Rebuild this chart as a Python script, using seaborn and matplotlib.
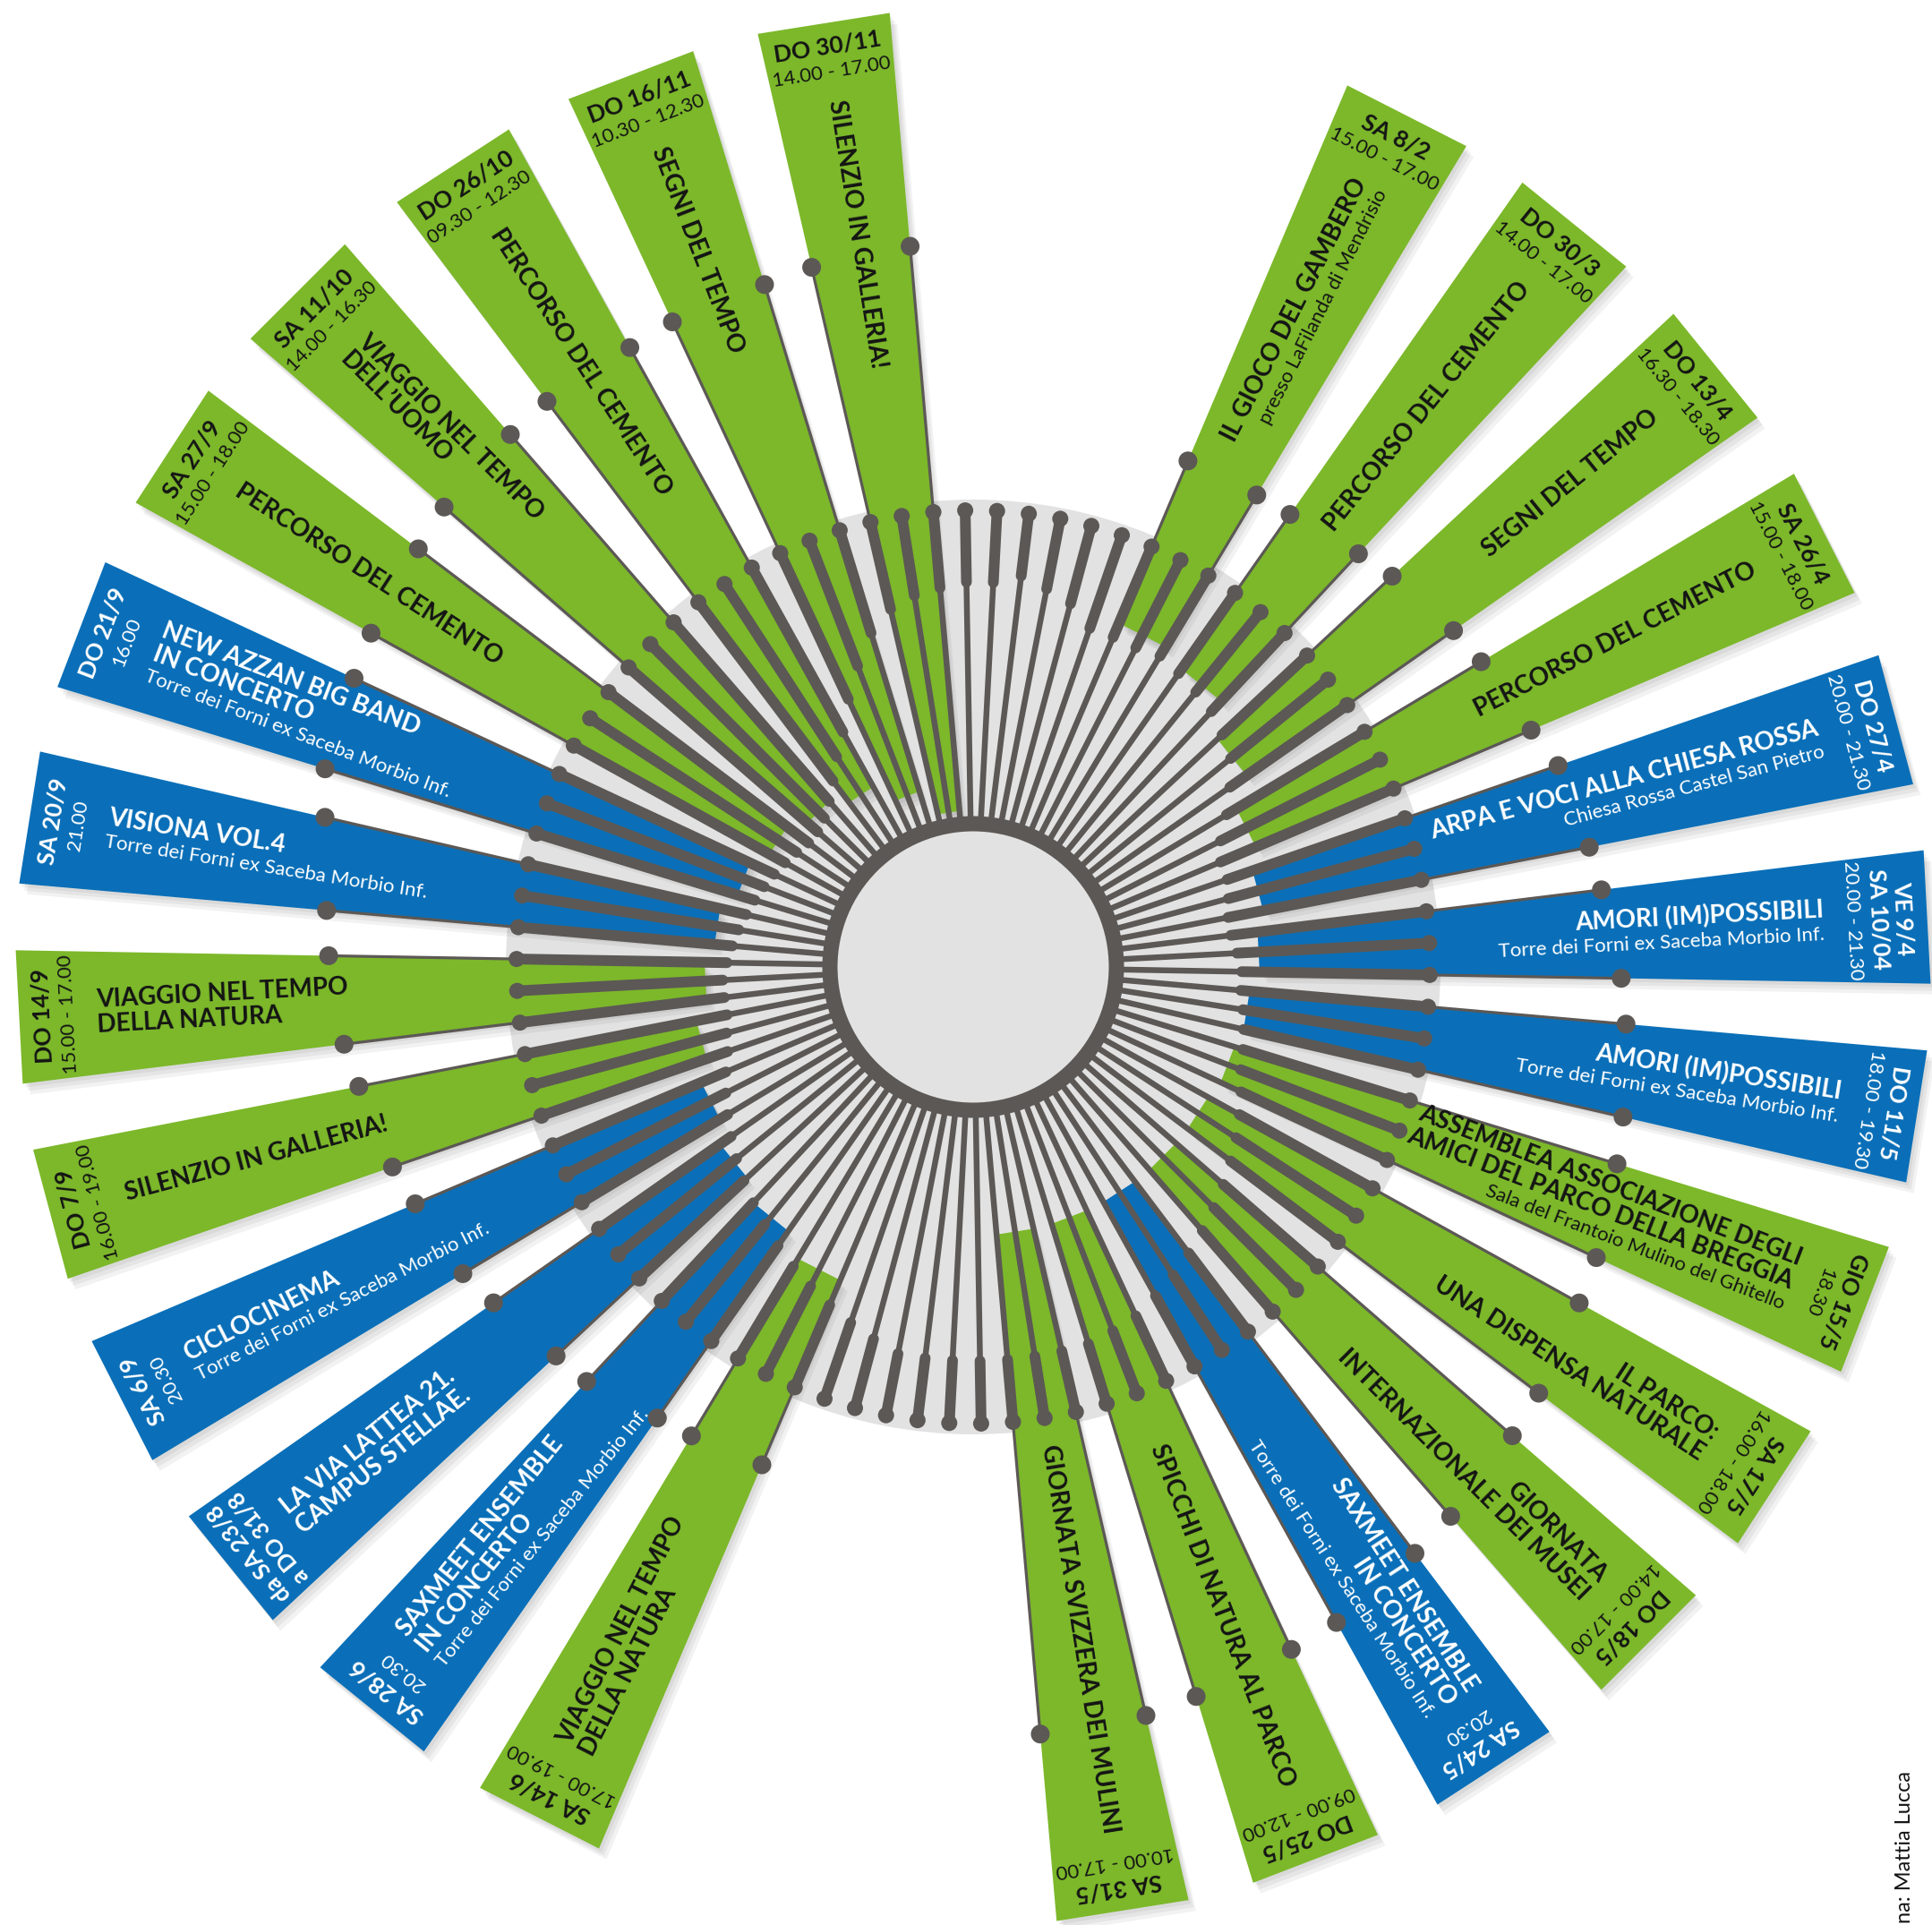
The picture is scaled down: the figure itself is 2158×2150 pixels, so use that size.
import numpy as np
import pandas as pd
import matplotlib
matplotlib.use("Agg")
import matplotlib.pyplot as plt
import seaborn as sns
from matplotlib.patches import Polygon, Circle
from matplotlib.collections import LineCollection

# ---------------- data ----------------
event_slot = [0, 1, 2, 3, 4, 5, 6, 7, 8, 9, 10, 11, 12,
              15, 16, 17, 18, 19, 20, 21, 22, 23, 24, 25, 26, 27]
event_kind = ["g", "g", "g", "g", "b", "b", "b", "g", "g", "g", "b", "g", "g",
              "g", "b", "b", "b", "g", "g", "b", "b", "g", "g", "g", "g", "g"]
event_dates = [["SA 8/2"], ["DO 30/3"], ["DO 13/4"], ["SA 26/4"], ["DO 27/4"],
               ["VE 9/4", "SA 10/04"], ["DO 11/5"], ["GIO 15/5"], ["SA 17/5"],
               ["DO 18/5"], ["SA 24/5"], ["DO 25/5"], ["SA 31/5"], ["SA 14/6"],
               ["SA 28/6"], ["da SA 23/8", "a DO 31/8"], ["SA 6/9"], ["DO 7/9"],
               ["DO 14/9"], ["SA 20/9"], ["DO 21/9"], ["SA 27/9"], ["SA 11/10"],
               ["DO 26/10"], ["DO 16/11"], ["DO 30/11"]]
event_times = ["15.00 - 17.00", "14.00 - 17.00", "16.30 - 18.30", "15.00 - 18.00",
               "20.00 - 21.30", "20.00 - 21.30", "18.00 - 19.30", "18.30",
               "16.00 - 18.00", "14.00 - 17.00", "20.30", "09.00 - 12.00",
               "10.00 - 17.00", "17.00 - 19.00", "20.30", "", "20.30",
               "16.00 - 19.00", "15.00 - 17.00", "21.00", "16.00", "15.00 - 18.00",
               "14.00 - 16.30", "09.30 - 12.30", "10.30 - 12.30", "14.00 - 17.00"]
TORRE = "Torre dei Forni ex Saceba Morbio Inf."
event_titles = [["IL GIOCO DEL GAMBERO"], ["PERCORSO DEL CEMENTO"], ["SEGNI DEL TEMPO"],
                ["PERCORSO DEL CEMENTO"], ["ARPA E VOCI ALLA CHIESA ROSSA"],
                ["AMORI (IM)POSSIBILI"], ["AMORI (IM)POSSIBILI"],
                ["ASSEMBLEA ASSOCIAZIONE DEGLI", "AMICI DEL PARCO DELLA BREGGIA"],
                ["IL PARCO:", "UNA DISPENSA NATURALE"],
                ["GIORNATA", "INTERNAZIONALE DEI MUSEI"],
                ["SAXMEET ENSEMBLE", "IN CONCERTO"], ["SPICCHI DI NATURA AL PARCO"],
                ["GIORNATA SVIZZERA DEI MULINI"], ["VIAGGIO NEL TEMPO", "DELLA NATURA"],
                ["SAXMEET ENSEMBLE", "IN CONCERTO"],
                ["LA VIA LATTEA 21.", "CAMPUS STELLAE."], ["CICLOCINEMA"],
                ["SILENZIO IN GALLERIA!"], ["VIAGGIO NEL TEMPO", "DELLA NATURA"],
                ["VISIONA VOL.4"], ["NEW AZZAN BIG BAND", "IN CONCERTO"],
                ["PERCORSO DEL CEMENTO"], ["VIAGGIO NEL TEMPO", "DELL\u2019UOMO"],
                ["PERCORSO DEL CEMENTO"], ["SEGNI DEL TEMPO"], ["SILENZIO IN GALLERIA!"]]
event_subs = [["presso LaFilanda di Mendrisio"], [], [], [],
              ["Chiesa Rossa Castel San Pietro"], [TORRE], [TORRE],
              ["Sala del Frantoio Mulino del Ghitello"], [], [], [TORRE], [], [],
              [], [TORRE], [], [TORRE], [], [], [TORRE], [TORRE], [], [], [], [], []]
# radius where each coloured wedge starts (inside the grey disc)
wedge_r_in = [417, 406, 373, 343, 330, 320, 310, 305, 300, 300, 300, 300, 300,
              380, 360, 345, 330, 315, 300, 290, 275, 260, 245, 230, 205, 175]
# radius of the end dot on the counter-clockwise / clockwise edge of each wedge
conn_r_ccw = [614, 617, 640, 662, 691, 707, 732, 752, 774, 798, 820, 841, 858,
              604, 615, 637, 665, 686, 708, 725, 757, 769, 783, 791, 795, 802]
conn_r_cw = [615, 631, 655, 677, 701, 724, 745, 768, 791, 813, 837, 852, 860,
             611, 633, 654, 677, 699, 720, 743, 763, 776, 788, 791, 797, 808]
# inner radius of the thick part of each of the 90 radial sticks (from 3 deg, every 4 deg)
stick_thick_r = [430, 440, 430, 420, 400, 400, 400, 405, 400, 395, 390, 380, 370,
                 350, 330, 310, 300, 300, 295, 290, 290, 295, 300, 300, 305, 310,
                 315, 320, 330, 340, 350, 360, 370, 380, 390, 400, 410, 420, 430,
                 435, 440, 440, 440, 440, 440, 440, 440, 440, 430, 420, 410, 400,
                 390, 380, 370, 360, 350, 340, 330, 320, 310, 300, 290, 285, 280,
                 280, 280, 275, 270, 265, 260, 255, 250, 245, 240, 235, 230, 230,
                 235, 245, 260, 280, 300, 330, 360, 390, 410, 420, 425, 430]
credit = "na: Mattia Lucca"

# ---------------- style ----------------
GREEN = "#7cb82a"
BLUE = "#0a6fb8"
DARK = "#5c5855"
LIGHT = "#e2e2e2"
INK = "#141414"

sns.set_theme(style="white")
plt.rcParams["font.family"] = ["Lato", "DejaVu Sans"]

W, H = 2158, 2150
CX, CY = 1087, 1080
PT = 0.72  # points per pixel at dpi 100

fig = plt.figure(figsize=(W / 100, H / 100), dpi=100)
ax = fig.add_axes([0, 0, 1, 1])
ax.set_xlim(-CX, W - CX)
ax.set_ylim(-(H - CY), CY)
ax.set_aspect("equal")
ax.axis("off")


def P(r, th):
    t = np.deg2rad(th)
    return np.array([r * np.sin(t), r * np.cos(t)])


HW = 4.0
R_OUT = 1067
RC = R_OUT / np.cos(np.deg2rad(HW))
R_STICK = 510

angles = [27 + 12 * s for s in event_slot]

# light gray disc
ax.add_patch(Circle((0, 0), 522, facecolor=LIGHT, edgecolor="none", zorder=1))

# wedges with soft shadow
for th, kind, rin in zip(angles, event_kind, wedge_r_in):
    poly = np.array([P(rin, th - HW), P(RC, th - HW), P(RC, th + HW), P(rin, th + HW)])
    for off in [12, 8, 4]:
        ax.add_patch(Polygon(poly + np.array([off * 0.7, -off]), closed=True,
                             facecolor="black", alpha=0.05, edgecolor="none", zorder=2))
    ax.add_patch(Polygon(poly, closed=True, facecolor=GREEN if kind == "g" else BLUE,
                         edgecolor="none", zorder=3))

# connectors along wedge edges
segs, dots = [], []
for th, r1, r2 in zip(angles, conn_r_ccw, conn_r_cw):
    for a, r in [(th - HW, r1), (th + HW, r2)]:
        segs.append([P(R_STICK, a), P(r, a)])
        dots.append(P(r, a))
ax.add_collection(LineCollection(segs, colors=DARK, linewidths=3.2 * PT, zorder=4))
dots = np.array(dots)
sns.scatterplot(x=dots[:, 0], y=dots[:, 1], s=(21 * PT) ** 2, color=DARK,
                edgecolor="none", legend=False, ax=ax, zorder=5)

# radial sticks
stick_ang = [3 + 4 * k for k in range(len(stick_thick_r))]
thin = [[P(160, a), P(r, a)] for a, r in zip(stick_ang, stick_thick_r)]
thick = [[P(r, a), P(R_STICK, a)] for a, r in zip(stick_ang, stick_thick_r)]
ax.add_collection(LineCollection(thin, colors=DARK, linewidths=6.5 * PT, zorder=6))
ax.add_collection(LineCollection(thick, colors=DARK, linewidths=12 * PT,
                                 capstyle="round", zorder=6))
caps = np.array([P(R_STICK, a) for a in stick_ang])
sns.scatterplot(x=caps[:, 0], y=caps[:, 1], s=(18 * PT) ** 2, color=DARK,
                edgecolor="none", legend=False, ax=ax, zorder=6)

# inner disc
ax.add_patch(Circle((0, 0), 160, facecolor=LIGHT, edgecolor=DARK,
                    linewidth=17 * PT, zorder=7))

# ---------------- texts ----------------
TITLE_FS, SUB_FS, DATE_FS, TIME_FS = 20, 16, 19, 16


def block(th, lines, r_anchor, right, color):
    rot = 90 - th if right else 270 - th
    ha = "right" if right else "left"
    rr = np.deg2rad(rot)
    d = np.array([np.sin(rr), -np.cos(rr)])
    offs, cur = [], 0.0
    for j, (_, _, _, sp) in enumerate(lines):
        if j > 0:
            cur += sp
        offs.append(cur)
    mid = (offs[0] + offs[-1]) / 2
    base = P(r_anchor, th)
    for (txt, fs, wt, _), o in zip(lines, offs):
        pos = base + (o - mid) * d
        ax.text(pos[0], pos[1], txt, rotation=rot, rotation_mode="anchor", ha=ha,
                va="center", fontsize=fs, fontweight=wt, color=color, zorder=8)


for i, th in enumerate(angles):
    color = INK if event_kind[i] == "g" else "white"
    right = th < 180
    # date block (tangential)
    date_lines = [(t, DATE_FS, "bold") for t in event_dates[i]]
    if event_times[i]:
        date_lines.append((event_times[i], TIME_FS, "normal"))
    r = 1040
    for txt, fs, wt in date_lines:
        pos = P(r, th)
        ax.text(pos[0], pos[1], txt, rotation=-th, rotation_mode="anchor", ha="center",
                va="center", fontsize=fs, fontweight=wt, color=color, zorder=8)
        r -= 28
    r_anchor = r - 4
    lines = [(t, TITLE_FS, "bold", 28) for t in event_titles[i]]
    for j, s in enumerate(event_subs[i]):
        lines.append((s, SUB_FS, "normal", 27 if j == 0 else 22))
    block(th, lines, r_anchor, right, color)

ax.text(1040, -1068, credit, rotation=90, rotation_mode="anchor", ha="left",
        va="center", fontsize=17, color=INK, zorder=8)

fig.savefig("out.png", dpi=100, facecolor="white")
